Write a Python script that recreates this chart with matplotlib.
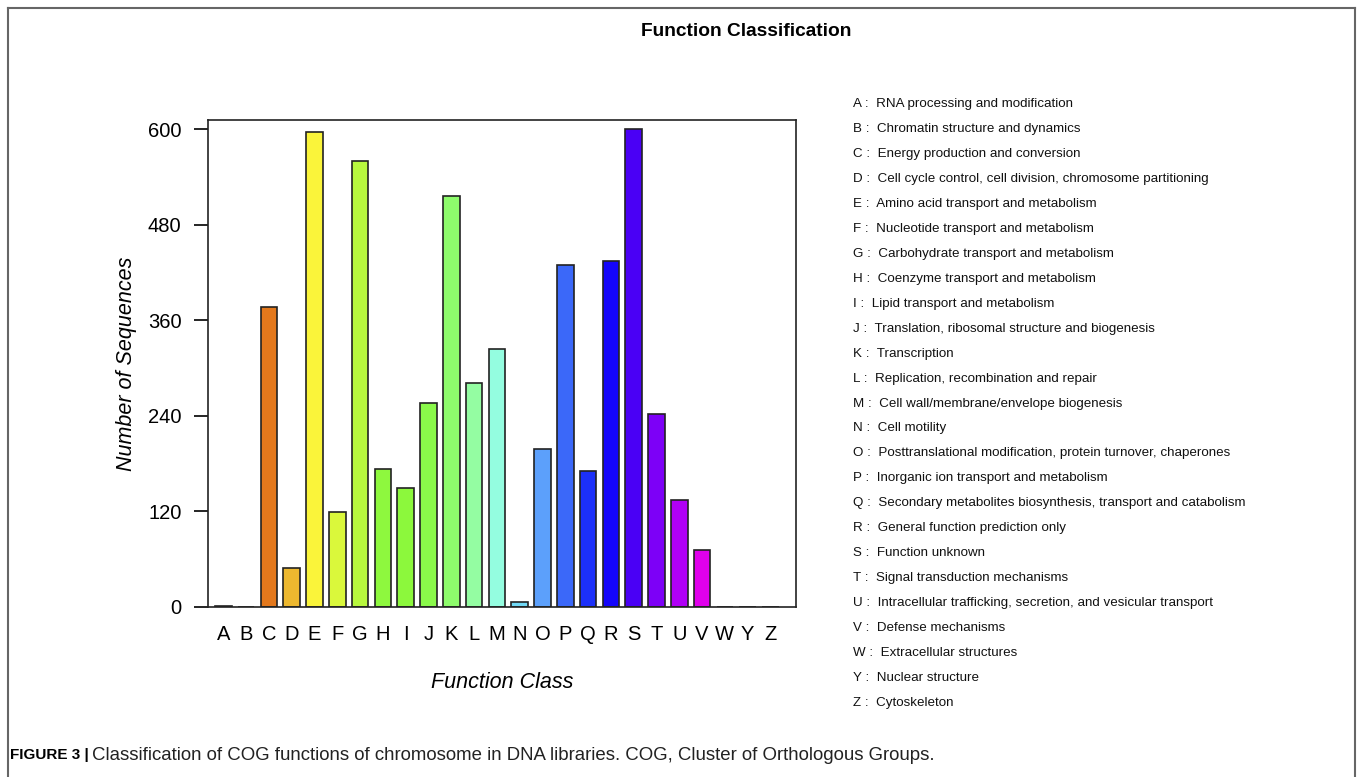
import matplotlib.pyplot as plt
from matplotlib.lines import Line2D

plt.rcParams['font.family'] = ['Liberation Sans', 'DejaVu Sans']

classes = ['A', 'B', 'C', 'D', 'E', 'F', 'G', 'H', 'I', 'J', 'K', 'L', 'M',
           'N', 'O', 'P', 'Q', 'R', 'S', 'T', 'U', 'V', 'W', 'Y', 'Z']
counts = [1, 0, 377, 49, 597, 119, 560, 173, 150, 256, 516, 281, 324,
          6, 199, 429, 171, 434, 600, 242, 135, 72, 0, 0, 0]
descriptions = [
    'RNA processing and modification',
    'Chromatin structure and dynamics',
    'Energy production and conversion',
    'Cell cycle control, cell division, chromosome partitioning',
    'Amino acid transport and metabolism',
    'Nucleotide transport and metabolism',
    'Carbohydrate transport and metabolism',
    'Coenzyme transport and metabolism',
    'Lipid transport and metabolism',
    'Translation, ribosomal structure and biogenesis',
    'Transcription',
    'Replication, recombination and repair',
    'Cell wall/membrane/envelope biogenesis',
    'Cell motility',
    'Posttranslational modification, protein turnover, chaperones',
    'Inorganic ion transport and metabolism',
    'Secondary metabolites biosynthesis, transport and catabolism',
    'General function prediction only',
    'Function unknown',
    'Signal transduction mechanisms',
    'Intracellular trafficking, secretion, and vesicular transport',
    'Defense mechanisms',
    'Extracellular structures',
    'Nuclear structure',
    'Cytoskeleton',
]
colors = ['#E0401C', '#E35A1C', '#E3781C', '#EDB82F', '#FAF43A', '#DAF83B',
          '#B8F83E', '#8EF83E', '#8CF83C', '#8AF94A', '#8EFC6C', '#94FDA2',
          '#94FDE0', '#70D8F5', '#5CA0FB', '#3B68F9', '#1C30F9', '#1405FA',
          '#4A00F5', '#7D00F7', '#B000F6', '#E000EC', '#E800C0', '#E80090',
          '#E80060']
yticks = [0, 120, 240, 360, 480, 600]

fig = plt.figure(figsize=(13.57, 7.77), dpi=100)
ax = fig.add_axes([208 / 1357, 170 / 777, 588 / 1357, 487 / 777])

x = list(range(len(classes)))
ax.bar(x, counts, width=0.73, color=colors, edgecolor='#222222', linewidth=1.2)
ax.set_xlim(-0.67, 25.12)
ax.set_ylim(0, 611.6)
ax.set_xticks(x)
ax.set_xticklabels(classes, fontsize=14.5)
ax.set_yticks(yticks)
ax.set_yticklabels([str(v) for v in yticks], fontsize=14.5)
ax.tick_params(axis='x', length=0, pad=13)
ax.tick_params(axis='y', length=10, width=1.2, pad=9)
for s in ax.spines.values():
    s.set_linewidth(1.2)
    s.set_color('#222222')
ax.set_ylabel('Number of Sequences', fontsize=15.5, style='italic', labelpad=8)
ax.set_xlabel('Function Class', fontsize=15.5, style='italic', labelpad=20)

fig.text(746 / 1357, 1 - 31 / 777, 'Function Classification', fontsize=13.8,
         fontweight='bold', ha='center', va='center')

for i, (c, d) in enumerate(zip(classes, descriptions)):
    y = 104 + i * 24.96
    fig.text(853 / 1357, 1 - y / 777, c + ' :  ' + d, fontsize=9.6,
             ha='left', va='center', color='#111111')

fig.text(10 / 1357, 1 - 755 / 777, 'FIGURE 3 |', fontsize=11, fontweight='bold',
         ha='left', va='center')
fig.text(92 / 1357, 1 - 755 / 777,
         'Classification of COG functions of chromosome in DNA libraries. '
         'COG, Cluster of Orthologous Groups.',
         fontsize=13.4, ha='left', va='center', color='#222222')

# outer frame (open at the bottom)
for xs, ys in [([8, 8], [777, 8]), ([8, 1355], [8, 8]), ([1355, 1355], [8, 777])]:
    fig.add_artist(Line2D([v / 1357 for v in xs], [1 - v / 777 for v in ys],
                          color='#666666', linewidth=1.5, transform=fig.transFigure))

fig.savefig('out.png', dpi=100)
